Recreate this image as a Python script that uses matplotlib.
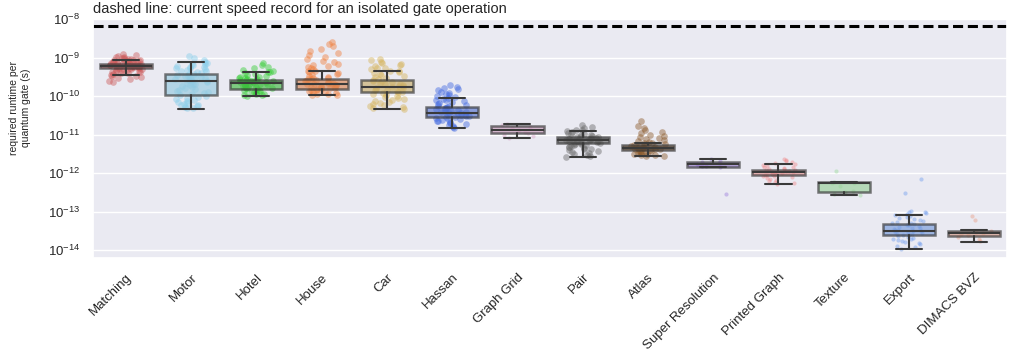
import numpy as np
import pandas as pd
import matplotlib
matplotlib.use("Agg")
import matplotlib.pyplot as plt
import seaborn as sns

sns.set_theme(style="darkgrid")
plt.rcParams['font.family'] = ['Liberation Sans', 'DejaVu Sans']

# categories and colours
names = ["Matching", "Motor", "Hotel", "House", "Car", "Hassan", "Graph Grid",
         "Pair", "Atlas", "Super Resolution", "Printed Graph", "Texture",
         "Export", "DIMACS BVZ"]
colors = ["indianred", "skyblue", "limegreen", "#f07f3c", "#d6b45a", "royalblue",
          "#d99ac4", "dimgray", "#8b5a2b", "mediumpurple", "lightcoral", "#8fd88f",
          "cornflowerblue", "darksalmon"]

# box statistics (seconds per gate)
q1 = [5.4e-10, 1.04e-10, 1.49e-10, 1.49e-10, 1.27e-10, 2.8e-11, 1.09e-11,
      5.9e-12, 3.95e-12, 1.44e-12, 8.7e-13, 3.2e-13, 2.4e-14, 2.37e-14]
med = [6.2e-10, 2.45e-10, 2.2e-10, 2.0e-10, 1.74e-10, 3.7e-11, 1.32e-11,
       7.2e-12, 4.5e-12, 1.68e-12, 1.04e-12, 5.6e-13, 3.1e-14, 2.8e-14]
q3 = [7.0e-10, 3.8e-10, 2.64e-10, 2.7e-10, 2.6e-10, 5.3e-11, 1.71e-11,
      8.6e-12, 5.3e-12, 1.97e-12, 1.2e-12, 5.7e-13, 4.9e-14, 3.2e-14]
whislo = [3.6e-10, 4.7e-11, 1.02e-10, 1.04e-10, 4.7e-11, 1.5e-11, 8.2e-12,
          2.55e-12, 2.7e-12, 1.44e-12, 5.1e-13, 2.7e-13, 1.1e-14, 1.6e-14]
whishi = [8.5e-10, 7.6e-10, 4.25e-10, 4.35e-10, 4.35e-10, 8.9e-11, 1.92e-11,
          1.22e-11, 6.2e-12, 2.3e-12, 1.68e-12, 5.7e-13, 8.1e-14, 3.3e-14]

# individual runs (approximate)
pts_matching = np.array([
    12.0, 11.5, 11.0, 10.6, 10.2, 9.9, 9.6, 9.4, 9.2, 9.0, 8.8, 8.6, 8.5, 8.3, 8.2,
    8.0, 7.9, 7.8, 7.7, 7.6, 7.5, 7.4, 7.3, 7.2, 7.1, 7.0, 6.95, 6.9, 6.8, 6.7, 6.65,
    6.6, 6.5, 6.4, 6.35, 6.3, 6.2, 6.15, 6.1, 6.0, 5.95, 5.9, 5.8, 5.7, 5.65, 5.6,
    5.5, 5.4, 5.3, 5.2, 5.1, 5.0, 4.9, 4.8, 4.7, 4.6, 4.5, 4.4, 4.3, 4.2, 4.0, 3.9,
    3.7, 3.6, 3.4, 3.3, 3.1, 2.9, 2.7, 2.5, 2.3]) * 1e-10
pts_motor = np.array([
    11.0, 10.0, 8.5, 7.6, 7.3, 7.0, 6.7, 6.4, 6.1, 5.8, 5.6, 5.4, 5.2, 5.0, 4.8, 4.6,
    4.4, 4.2, 4.0, 3.85, 3.7, 3.55, 3.4, 3.3, 3.2, 3.1, 3.0, 2.9, 2.8, 2.7, 2.6, 2.5,
    2.4, 2.3, 2.2, 2.1, 2.0, 1.9, 1.8, 1.7, 1.6, 1.5, 1.4, 1.32, 1.25, 1.18, 1.1,
    1.04, 0.98, 0.93, 0.88, 0.83, 0.78, 0.74, 0.7, 0.66, 0.63, 0.6, 0.57, 0.54, 0.52,
    0.5, 0.48]) * 1e-10
pts_hotel = np.array([
    7.4, 6.5, 5.8, 5.2, 4.8, 4.5, 4.3, 4.1, 3.9, 3.7, 3.5, 3.35, 3.2, 3.1, 3.0, 2.9,
    2.8, 2.7, 2.65, 2.6, 2.55, 2.5, 2.45, 2.4, 2.35, 2.3, 2.25, 2.2, 2.15, 2.1, 2.05,
    2.0, 1.95, 1.9, 1.85, 1.8, 1.75, 1.7, 1.65, 1.6, 1.55, 1.5, 1.45, 1.4, 1.35, 1.3,
    1.25, 1.2, 1.16, 1.12, 1.08, 1.05, 1.02]) * 1e-10
pts_house = np.array([
    25, 23, 20, 17, 15, 13, 11.5, 10.2, 9.0, 8.2, 7.5, 6.9, 6.4, 6.0, 5.6, 5.2, 4.9,
    4.6, 4.35, 4.1, 3.9, 3.7, 3.5, 3.3, 3.15, 3.0, 2.9, 2.8, 2.7, 2.6, 2.5, 2.4, 2.3,
    2.2, 2.15, 2.1, 2.05, 2.0, 1.95, 1.9, 1.85, 1.8, 1.75, 1.7, 1.65, 1.6, 1.55, 1.5,
    1.45, 1.4, 1.35, 1.3, 1.25, 1.2, 1.15, 1.1, 1.07, 1.04]) * 1e-10
pts_car = np.array([
    9.4, 8.5, 7.8, 7.2, 6.7, 6.3, 5.9, 5.5, 5.2, 4.9, 4.6, 4.35, 4.1, 3.9, 3.7, 3.5,
    3.3, 3.1, 2.95, 2.8, 2.65, 2.5, 2.4, 2.3, 2.2, 2.1, 2.0, 1.92, 1.85, 1.78, 1.72,
    1.66, 1.6, 1.54, 1.48, 1.42, 1.36, 1.3, 1.25, 1.2, 1.14, 1.08, 1.02, 0.96, 0.9,
    0.85, 0.8, 0.75, 0.7, 0.66, 0.62, 0.58, 0.55, 0.52, 0.49, 0.47]) * 1e-10
pts_hassan = np.array([
    19, 17.5, 16, 15, 14, 13, 12.2, 11.5, 10.8, 10.2, 9.6, 9.1, 8.6, 8.1, 7.7, 7.3,
    6.9, 6.5, 6.2, 5.9, 5.6, 5.4, 5.2, 5.0, 4.8, 4.6, 4.4, 4.25, 4.1, 3.95, 3.8, 3.7,
    3.6, 3.5, 3.4, 3.3, 3.2, 3.1, 3.0, 2.9, 2.8, 2.7, 2.6, 2.5, 2.4, 2.3, 2.2, 2.1,
    2.0, 1.9, 1.8, 1.7, 1.6, 1.5]) * 1e-11
pts_graphgrid = np.array([19.0, 17.5, 16.0, 14.5, 13.5, 13.0, 12.0, 11.0, 10.0, 9.0,
                          8.3]) * 1e-12
pts_pair = np.array([
    18, 16, 14.5, 13.5, 12.8, 12.2, 11.6, 11.1, 10.6, 10.2, 9.8, 9.5, 9.2, 8.9, 8.6,
    8.4, 8.2, 8.0, 7.8, 7.6, 7.45, 7.3, 7.2, 7.1, 7.0, 6.9, 6.8, 6.65, 6.5, 6.35, 6.2,
    6.05, 5.9, 5.75, 5.6, 5.45, 5.3, 5.1, 4.9, 4.7, 4.5, 4.3, 4.1, 3.9, 3.7, 3.5, 3.3,
    3.1, 2.95, 2.8, 2.65]) * 1e-12
pts_atlas = np.array([
    22, 17, 15, 13.5, 12, 11, 10, 9.3, 8.6, 8.0, 7.5, 7.1, 6.7, 6.4, 6.1, 5.9, 5.7,
    5.5, 5.35, 5.2, 5.05, 4.9, 4.8, 4.7, 4.6, 4.5, 4.4, 4.3, 4.2, 4.1, 4.0, 3.9, 3.8,
    3.7, 3.6, 3.5, 3.4, 3.3, 3.2, 3.1, 3.0, 2.9, 2.8, 2.75]) * 1e-12
pts_superres = np.array([2.3, 2.1, 1.95, 1.8, 1.7, 1.65, 1.55, 1.5, 1.45, 0.28]) * 1e-12
pts_printed = np.array([
    23, 21.5, 20, 19, 18, 17, 16, 15.2, 14.5, 14, 13.5, 13, 12.6, 12.2, 11.8, 11.5,
    11.2, 10.9, 10.6, 10.3, 10, 9.7, 9.4, 9.1, 8.8, 8.5, 8.2, 7.9, 7.6, 7.2, 6.8, 6.4,
    6.0, 5.6, 5.3]) * 1e-13
pts_texture = np.array([11.5, 5.7, 5.6, 5.5, 4.5, 3.5, 3.2, 2.9, 2.7]) * 1e-13
pts_export = np.array([
    70, 30, 10.5, 10, 9.5, 9.0, 8.5, 8.1, 7.6, 7.2, 6.8, 6.4, 6.1, 5.8, 5.5, 5.2, 5.0,
    4.8, 4.6, 4.4, 4.2, 4.0, 3.85, 3.7, 3.55, 3.4, 3.3, 3.2, 3.1, 3.0, 2.9, 2.8, 2.7,
    2.6, 2.5, 2.4, 2.3, 2.2, 2.1, 2.0, 1.9, 1.8, 1.7, 1.6, 1.5, 1.4, 1.3, 1.2,
    1.1]) * 1e-14
pts_dimacs = np.array([7.6, 6.0, 3.2, 3.0, 2.8, 2.6, 2.4, 2.2, 1.9, 1.7]) * 1e-14

points = [pts_matching, pts_motor, pts_hotel, pts_house, pts_car, pts_hassan,
          pts_graphgrid, pts_pair, pts_atlas, pts_superres, pts_printed,
          pts_texture, pts_export, pts_dimacs]

# the big benchmark sets have thousands of runs -> draw them as a dense cloud
dense = {"Matching", "Motor", "Hotel", "House", "Car", "Hassan", "Pair", "Atlas"}

record = 6.6e-9  # fastest single gate

fig, ax = plt.subplots(figsize=(10.13, 3.59), dpi=100)
fig.subplots_adjust(left=0.092, right=0.994, top=0.947, bottom=0.281)
ax.set_yscale("log")

for name, pts, c in zip(names, points, colors):
    big = name in dense
    df = pd.DataFrame({"problem": [name] * len(pts), "runtime": pts})
    sns.stripplot(data=df, x="problem", y="runtime", order=names, color=c,
                  jitter=0.26, size=4.8 if big else 3.0, alpha=0.45 if big else 0.4,
                  linewidth=0, ax=ax, zorder=1)

stats = [dict(q1=a, med=b, q3=c, whislo=d, whishi=e, fliers=[])
         for a, b, c, d, e in zip(q1, med, q3, whislo, whishi)]
bp = ax.bxp(stats, positions=np.arange(len(names)), widths=0.8, patch_artist=True,
            showfliers=False, manage_ticks=False,
            boxprops=dict(edgecolor="#333333", linewidth=1.8),
            whiskerprops=dict(color="#3a3a3a", linewidth=1.5),
            capprops=dict(color="#3a3a3a", linewidth=1.5),
            medianprops=dict(color="#3a3a3a", linewidth=1.5))
for patch, c in zip(bp["boxes"], colors):
    patch.set_facecolor(sns.desaturate(c, 0.75))
    patch.set_alpha(0.65)
    patch.set_zorder(2)

ax.axhline(record, color="black", linestyle=(0, (3.3, 1.55)), linewidth=2.2)

ax.set_ylim(6.2e-15, 1e-8)
ax.set_xlim(-0.5, len(names) - 0.5)
ax.set_xlabel("")
ax.set_ylabel("required runtime per\nquantum gate (s)", fontsize=7.5)
ax.yaxis.set_label_coords(-0.068, 0.628)
ax.set_xticks(np.arange(len(names)))
ax.set_xticklabels(names, rotation=45, ha="right", rotation_mode="anchor", fontsize=9.5)
ax.tick_params(axis="y", labelsize=9.5)
ax.text(0, 1.012, "dashed line: current speed record for an isolated gate operation",
        transform=ax.transAxes, ha="left", va="bottom", fontsize=10.5)

fig.savefig("out.png", dpi=100)
